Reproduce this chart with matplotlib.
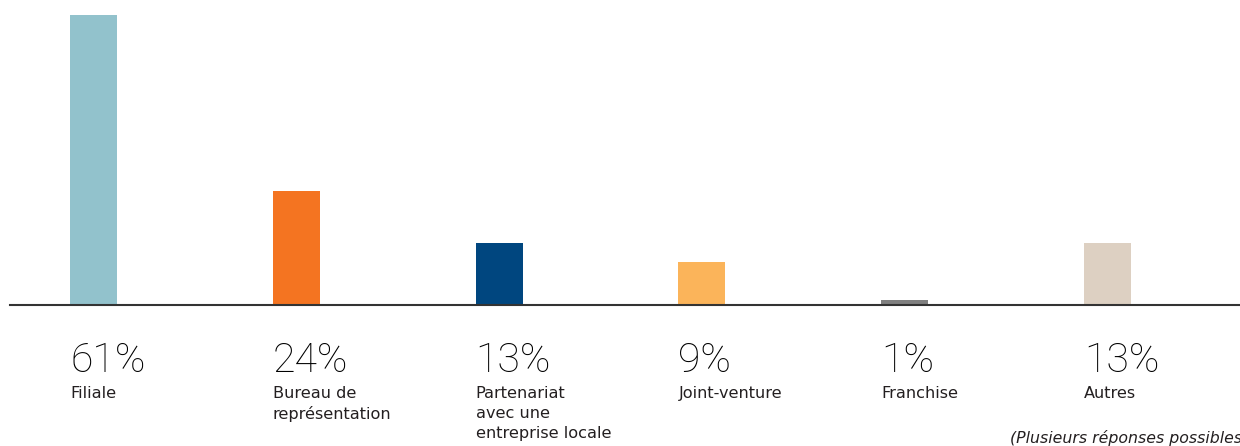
import matplotlib
matplotlib.use("Agg")
import matplotlib.pyplot as plt
from matplotlib.transforms import blended_transform_factory

categories = ["Filiale", "Bureau de\nreprésentation", "Partenariat\navec une\nentreprise locale",
              "Joint-venture", "Franchise", "Autres"]
values = [61, 24, 13, 9, 1, 13]
pct_labels = ["61%", "24%", "13%", "9%", "1%", "13%"]
colors = ["#92C2CC", "#F47421", "#00467F", "#FBB45A", "#808080", "#DDD0C2"]
footnote = "(Plusieurs réponses possibles)"

W, H = 1240, 446
fig = plt.figure(figsize=(W / 100, H / 100), dpi=100)
ax = fig.add_axes([10 / W, (H - 305) / H, 1 - 10 / W, (305 - 15) / H])

x = list(range(len(values)))
bw = 0.232
ax.bar(x, values, width=bw, color=colors, zorder=2)
ax.set_xlim(-0.412, 5.653)
ax.set_ylim(0, 61)
for s in ["top", "right", "left"]:
    ax.spines[s].set_visible(False)
ax.spines["bottom"].set_color("#333333")
ax.spines["bottom"].set_linewidth(1.5)
ax.set_xticks([])
ax.set_yticks([])

tr = blended_transform_factory(ax.transData, fig.transFigure)
for xi, p, c in zip(x, pct_labels, categories):
    ax.text(xi - bw / 2, (H - 372) / H, p, transform=tr, ha="left", va="baseline",
            fontsize=29.5, color="#000000", family="Roboto", fontweight="light", clip_on=False)
    ax.text(xi - bw / 2, (H - 386) / H, c, transform=tr, ha="left", va="top",
            fontsize=11.6, color="#231F20", family="DejaVu Sans", linespacing=1.4, clip_on=False)

fig.text(1010 / W, (H - 443) / H, footnote, ha="left", va="baseline", fontsize=11.3,
         style="italic", color="#231F20", family="DejaVu Sans")

fig.savefig("out.png", dpi=100, facecolor="white")
